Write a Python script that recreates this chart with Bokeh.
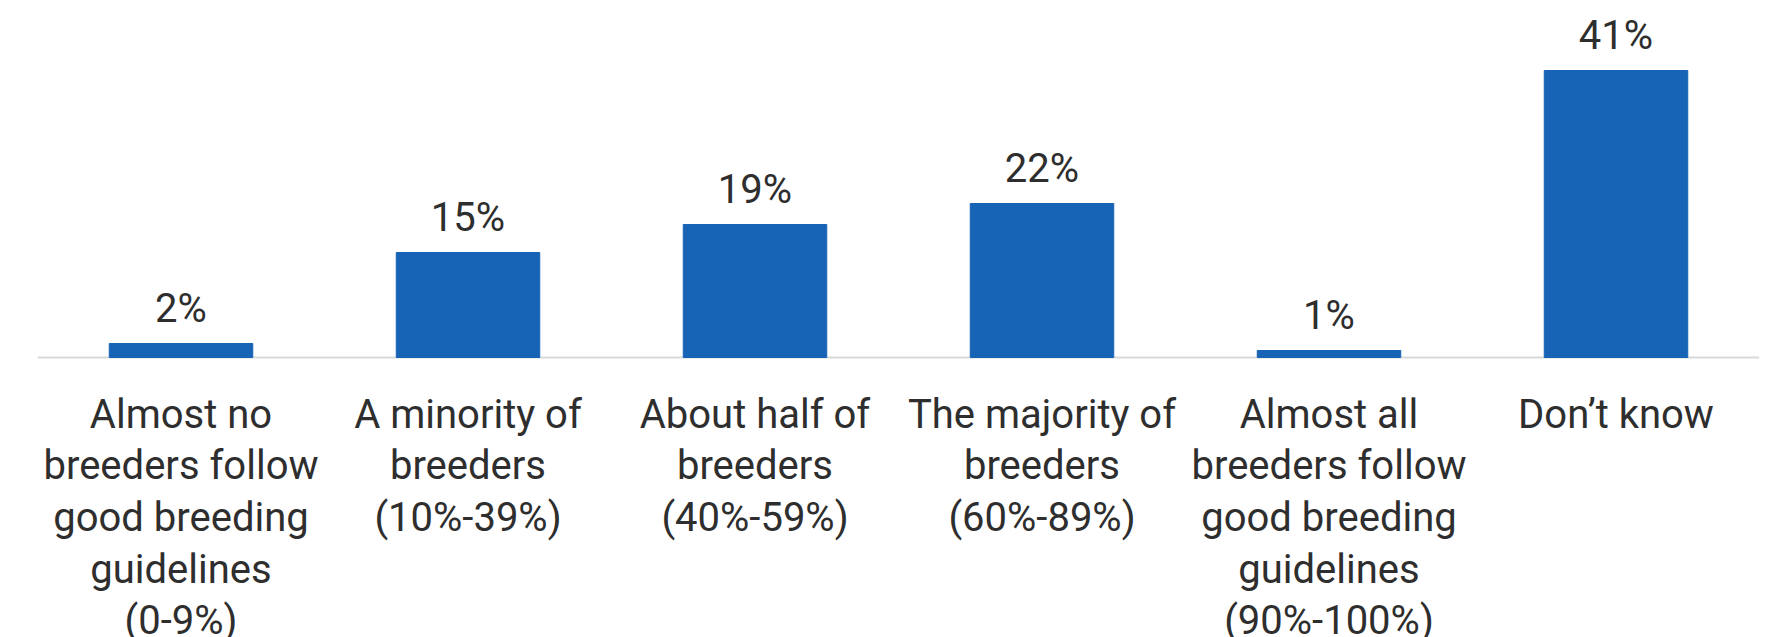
from bokeh.plotting import figure
from bokeh.models import ColumnDataSource, FactorRange, Range1d, Span
from bokeh.core.properties import value
from bokeh.embed import file_html
from bokeh.resources import INLINE

categories = [
    "Almost no\nbreeders follow\ngood breeding\nguidelines\n(0-9%)",
    "A minority of\nbreeders\n(10%-39%)",
    "About half of\nbreeders\n(40%-59%)",
    "The majority of\nbreeders\n(60%-89%)",
    "Almost all\nbreeders follow\ngood breeding\nguidelines\n(90%-100%)",
    "Don\u2019t know",
]
values = [2, 15, 19, 22, 1, 41]
labels = ["2%", "15%", "19%", "22%", "1%", "41%"]

FONT = "Roboto"
TEXT_COLOR = "#2e2e2e"
BAR_COLOR = "#1763B5"

W, H = 1779, 637
BASE_PX = 357          # baseline position from top of figure
PX_PER_UNIT = 7.0

src = ColumnDataSource(dict(cat=categories, val=values, lab=labels,
                            zero=[0] * len(values)))

p = figure(
    x_range=FactorRange(*categories, range_padding=0),
    y_range=Range1d(-(H - BASE_PX) / PX_PER_UNIT, BASE_PX / PX_PER_UNIT),
    width=W, height=H,
    output_backend="svg", toolbar_location=None,
    x_axis_location=None, y_axis_location=None,
    min_border_left=37, min_border_right=20,
    min_border_top=0, min_border_bottom=0,
)

p.add_layout(Span(location=0, dimension="width", line_color="#d9d9d9",
                  line_width=2, level="underlay"))
p.vbar(x="cat", top="val", width=0.5, source=src, color=BAR_COLOR)

# value labels above bars
p.text(x="cat", y="val", text="lab", source=src, y_offset=-35,
       text_align="center", text_baseline="alphabetic",
       text_font=value(FONT), text_font_size="40px", text_color=TEXT_COLOR)

# category labels below the baseline
p.text(x="cat", y="zero", text="cat", source=src, y_offset=33,
       text_align="center", text_baseline="top",
       text_font=value(FONT), text_font_size="40px", text_color=TEXT_COLOR,
       text_line_height=1.1)

p.xgrid.visible = False
p.ygrid.visible = False
p.outline_line_color = None
p.background_fill_color = "white"
p.border_fill_color = "white"

open("out.html", "w").write(file_html(p, INLINE))
